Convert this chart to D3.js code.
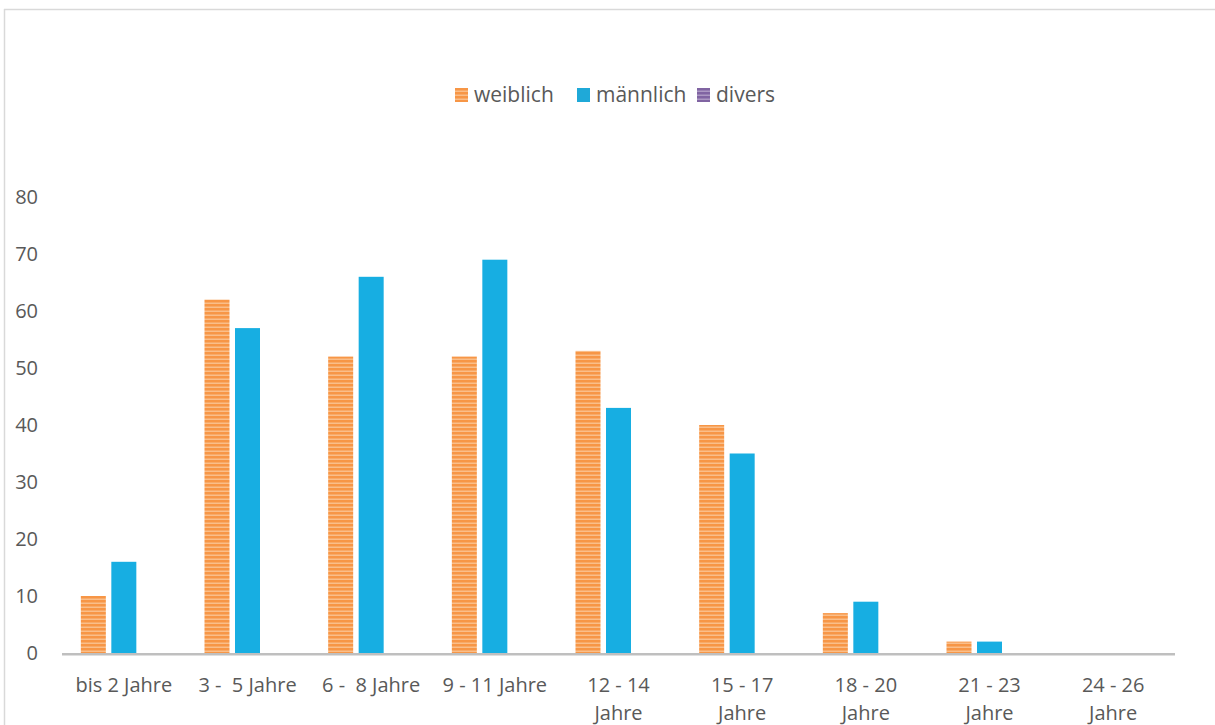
<!DOCTYPE html>
<html>
<head>
<meta charset="utf-8">
<script src="https://cdn.jsdelivr.net/npm/d3@7"></script>
<style>
  body { margin: 0; background: #fff; }
  svg { display: block; font-family: "Open Sans", "Noto Sans", sans-serif; }
  text { white-space: pre; }
</style>
</head>
<body>
<div id="chart"></div>
<script>
// data
const categories = ["bis 2 Jahre", "3 -  5 Jahre", "6 -  8 Jahre", "9 - 11 Jahre",
  "12 - 14\nJahre", "15 - 17\nJahre", "18 - 20\nJahre", "21 - 23\nJahre", "24 - 26\nJahre"];
const seriesNames = ["weiblich", "männlich", "divers"];
const weiblich = [10, 62, 52, 52, 53, 40, 7, 2, 0];
const maennlich = [16, 57, 66, 69, 43, 35, 9, 2, 0];
const divers = [0, 0, 0, 0, 0, 0, 0, 0, 0];
const yTicks = [0, 10, 20, 30, 40, 50, 60, 70, 80];

const width = 1215, height = 725;

const svg = d3.select('#chart').append('svg')
  .attr('width', width)
  .attr('height', height);

// patterns for striped fills
const defs = svg.append('defs');
function stripes(id, base, light) {
  const p = defs.append('pattern')
    .attr('id', id)
    .attr('patternUnits', 'userSpaceOnUse')
    .attr('width', 8).attr('height', 4);
  p.append('rect').attr('width', 8).attr('height', 4).attr('fill', base);
  p.append('rect').attr('y', 2.6).attr('width', 8).attr('height', 1.2).attr('fill', light);
}
stripes('pat-w', '#F79646', '#FBC89A');
stripes('pat-d', '#8064A2', '#B7A5CC');

const fills = ['url(#pat-w)', '#17AEE2', 'url(#pat-d)'];
const legendFills = ['url(#pat-w)', '#1FA9D8', 'url(#pat-d)'];

// chart area frame (only top and left visible in the crop)
svg.append('line').attr('x1', 4).attr('x2', width).attr('y1', 9.5).attr('y2', 9.5)
  .attr('stroke', '#d9d9d9').attr('stroke-width', 1.5);
svg.append('line').attr('x1', 4.5).attr('x2', 4.5).attr('y1', 9).attr('y2', height)
  .attr('stroke', '#d9d9d9').attr('stroke-width', 1.5);

const x = d3.scaleBand()
  .domain(categories)
  .range([62, 1175])
  .paddingInner(0).paddingOuter(0);

const y = d3.scaleLinear()
  .domain([0, 80])
  .range([653, 197]);

const barW = 25, barStep = 30.5;
const xSub = d3.scaleBand()
  .domain(seriesNames)
  .range([0, barStep * 3]);

const values = [weiblich, maennlich, divers];

// bars
seriesNames.forEach((name, si) => {
  svg.append('g')
    .selectAll('rect')
    .data(values[si])
    .enter()
    .append('rect')
    .attr('x', (d, i) => x(categories[i]) + x.bandwidth() / 2 - barStep * 1.5 + xSub(name) + (barStep - barW) / 2)
    .attr('y', d => y(d))
    .attr('width', barW)
    .attr('height', d => y(0) - y(d))
    .attr('fill', fills[si]);
});

// x axis line
svg.append('line')
  .attr('x1', 62).attr('x2', 1175)
  .attr('y1', y(0) + 1.2).attr('y2', y(0) + 1.2)
  .attr('stroke', '#bfbfbf').attr('stroke-width', 2.5);

// y tick labels
svg.append('g')
  .selectAll('text')
  .data(yTicks)
  .enter()
  .append('text')
  .attr('x', 38)
  .attr('y', d => y(d))
  .attr('dy', '0.35em')
  .attr('text-anchor', 'end')
  .attr('fill', '#595959')
  .attr('font-size', 20)
  .text(d => d);

// x category labels
const xl = svg.append('g')
  .selectAll('text')
  .data(categories)
  .enter()
  .append('text')
  .attr('text-anchor', 'middle')
  .attr('fill', '#595959')
  .attr('font-size', 20);
xl.each(function(d) {
  const lines = d.split('\n');
  const t = d3.select(this);
  lines.forEach((ln, k) => {
    t.append('tspan')
      .attr('x', x(d) + x.bandwidth() / 2)
      .attr('y', 692 + k * 28)
      .text(ln);
  });
});

// legend
const legendX = [455, 577, 697];
const lg = svg.append('g');
seriesNames.forEach((name, i) => {
  lg.append('rect')
    .attr('x', legendX[i]).attr('y', 88)
    .attr('width', 13).attr('height', 14)
    .attr('fill', legendFills[i]);
  lg.append('text')
    .attr('x', legendX[i] + 19).attr('y', 95)
    .attr('dy', '0.35em')
    .attr('fill', '#595959')
    .attr('font-size', 21)
    .text(name);
});
</script>
</body>
</html>
